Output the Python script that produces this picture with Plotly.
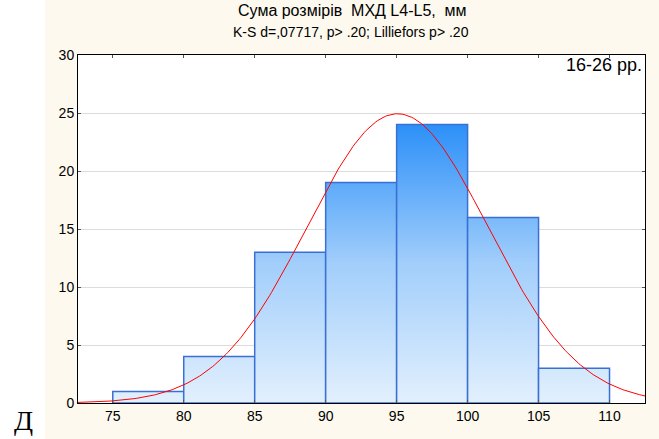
import numpy as np
import plotly.graph_objects as go

# Histogram bins (left edges, width 5 mm) and observed counts
bin_left = [75, 80, 85, 90, 95, 100, 105]
bin_width = 5
counts = [1, 4, 13, 19, 24, 16, 3]

# Fitted normal distribution parameters
mean_val = 95.06
sd_val = 6.4

x_ticks = [75, 80, 85, 90, 95, 100, 105, 110]
y_ticks = [0, 5, 10, 15, 20, 25, 30]

title_text = "Сума розмірів  МХД L4-L5,  мм"
subtitle_text = "K-S d=,07717, p> .20; Lilliefors p> .20"
group_text = "16-26 рр."
panel_letter = "Д"

x_range = [72.55, 112.5]
y_range = [0, 30]

fig = go.Figure()

# Bars drawn as filled polygons so they can carry a vertical gradient
for left, c in zip(bin_left, counts):
    right = left + bin_width
    fig.add_trace(go.Scatter(
        x=[left, left, right, right, left],
        y=[0, c, c, 0, 0],
        mode="lines",
        fill="toself",
        fillgradient=dict(
            type="vertical",
            colorscale=[[0, "#E2F0FD"], [0.5, "#A2CEFB"], [1, "#2C90F8"]],
            start=0,
            stop=24,
        ),
        line=dict(color="#3A70D4", width=1.5),
        hoverinfo="skip",
        showlegend=False,
    ))

# Expected normal curve scaled to counts
n_total = sum(counts)
xc = np.linspace(x_range[0], x_range[1], 300)
yc = n_total * bin_width / (sd_val * np.sqrt(2 * np.pi)) * np.exp(-0.5 * ((xc - mean_val) / sd_val) ** 2)
fig.add_trace(go.Scatter(
    x=xc, y=yc, mode="lines",
    line=dict(color="#FF0000", width=1),
    hoverinfo="skip", showlegend=False,
))

sans = "Liberation Sans, Arial, sans-serif"
axis_font = dict(family=sans, size=14, color="#000000")

fig.update_xaxes(
    range=x_range,
    tickvals=x_ticks,
    ticktext=[str(v) for v in x_ticks],
    showgrid=False,
    zeroline=False,
    showline=True,
    linecolor="#000000",
    linewidth=1,
    mirror="allticks",
    ticks="inside",
    ticklen=3,
    tickcolor="#555555",
    tickfont=axis_font,
)
fig.update_yaxes(
    range=y_range,
    tickvals=y_ticks,
    ticktext=[str(v) for v in y_ticks],
    showgrid=True,
    gridcolor="#DCDCDC",
    gridwidth=1,
    zeroline=False,
    showline=True,
    linecolor="#000000",
    linewidth=1,
    mirror="allticks",
    ticks="inside",
    ticklen=3,
    tickcolor="#555555",
    tickfont=axis_font,
)

cream = "#FDF9EE"

fig.update_layout(
    width=659,
    height=439,
    margin=dict(l=78, r=14, t=55, b=36),
    paper_bgcolor=cream,
    plot_bgcolor="#FFFFFF",
    shapes=[
        # white strip on the far left of the figure
        dict(type="rect", xref="paper", yref="paper",
             x0=-0.2, x1=-0.0582, y0=-0.2, y1=1.3,
             fillcolor="#FFFFFF", line=dict(width=0), layer="below"),
    ],
    annotations=[
        dict(text=title_text, xref="paper", yref="paper",
             x=(352 - 78) / 567, y=(403 - 0) / 348,
             xanchor="center", yanchor="top", showarrow=False,
             font=dict(family=sans, size=16, color="#000000")),
        dict(text=subtitle_text, xref="paper", yref="paper",
             x=(351 - 78) / 567, y=(403 - 32) / 348,
             xanchor="center", yanchor="middle", showarrow=False,
             font=dict(family=sans, size=14, color="#000000")),
        dict(text=group_text, xref="paper", yref="paper",
             x=(644 - 78) / 567, y=(403 - 65) / 348,
             xanchor="right", yanchor="middle", showarrow=False,
             font=dict(family=sans, size=18, color="#000000")),
        dict(text=panel_letter, xref="paper", yref="paper",
             x=(23 - 78) / 567, y=(403 - 438) / 348,
             xanchor="center", yanchor="bottom", showarrow=False,
             font=dict(family="Liberation Serif, Times New Roman, serif", size=28, color="#000000")),
    ],
)

fig.write_html("out.html")
